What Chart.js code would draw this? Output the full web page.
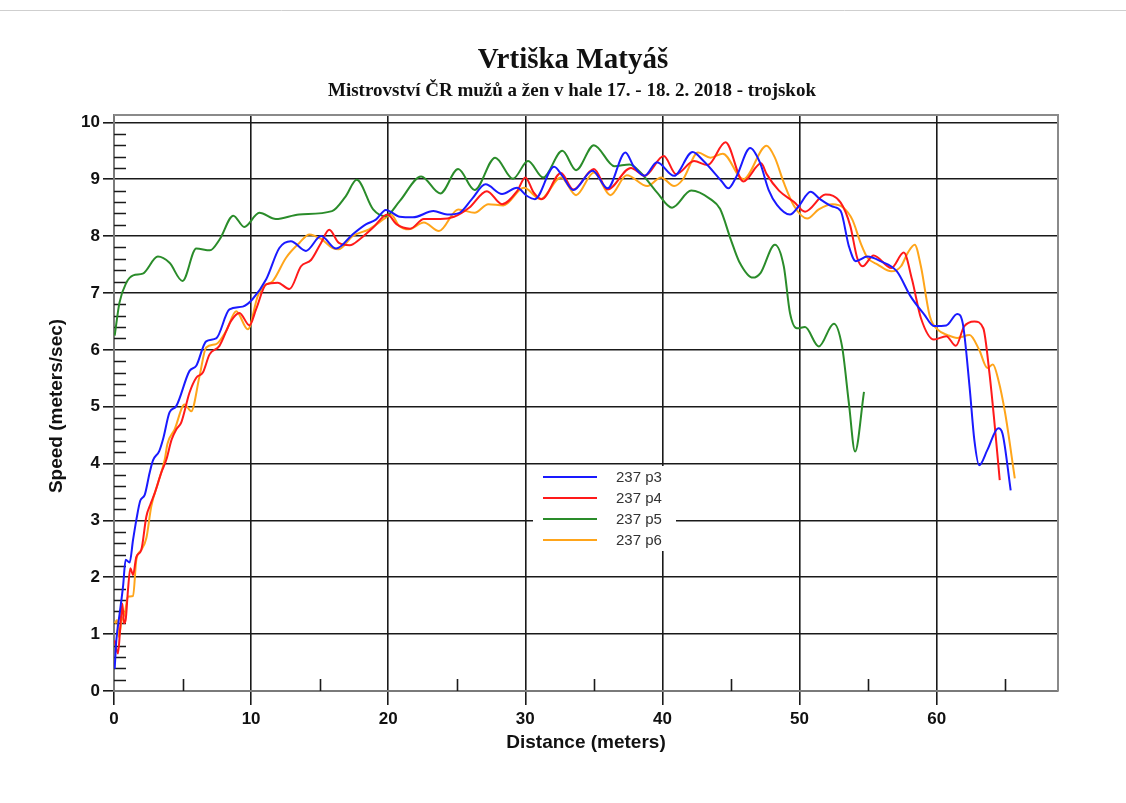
<!DOCTYPE html>
<html><head><meta charset="utf-8">
<script src="https://cdn.jsdelivr.net/npm/chart.js@4.4.1/dist/chart.umd.min.js"></script>
<style>html,body{margin:0;padding:0;background:#fff}#wrap{position:relative;width:1126px;height:803px}</style>
</head><body><div id="wrap"><canvas id="c"></canvas></div>
<script>
// ---- data (distance in meters, speed in m/s) ----
const seriesLabels = ['237 p3', '237 p4', '237 p5', '237 p6'];
const seriesColors = ['#1a1aff', '#ff1a1a', '#2a8c2a', '#ffa51a'];

const p3Dist  = [0.05,0.17,0.41,0.66,0.85,1.14,1.39,1.63,1.92,2.24,2.60,2.85,3.30,3.60,4.05,4.54,5.51,6.0,6.72,7.45,8.42,9.39,10.1,11.1,12.06,12.9,14.0,15.1,16.2,17.4,18.4,19.1,19.83,20.85,21.8,23.3,24.3,25.2,26.1,27.1,28.3,29.4,30.1,30.7,32.1,32.7,33.5,34.9,36.0,37.3,37.9,38.7,39.6,40.85,42.2,43.0,44.3,44.8,45.4,46.4,47.1,47.75,48.35,49.3,49.95,50.8,51.5,52.4,53.0,53.6,54.1,54.95,55.9,57.1,58.1,59.1,59.8,60.7,61.5,61.9,62.4,62.75,63.1,63.7,64.5,64.8,65.4];
const p3Speed = [0.39,0.89,1.36,1.84,2.31,2.26,2.66,3.01,3.35,3.45,3.84,4.06,4.22,4.45,4.90,5.01,5.63,5.72,6.15,6.20,6.71,6.76,6.89,7.24,7.79,7.91,7.74,8.0,7.78,8.03,8.21,8.29,8.46,8.34,8.33,8.44,8.38,8.41,8.65,8.91,8.74,8.85,8.71,8.65,9.22,9.06,8.81,9.15,8.84,9.47,9.23,9.06,9.30,9.06,9.48,9.32,8.97,8.84,9.05,9.55,9.30,8.81,8.55,8.38,8.53,8.78,8.65,8.52,8.44,7.82,7.56,7.64,7.56,7.38,6.94,6.62,6.42,6.43,6.63,6.47,5.35,4.41,3.97,4.24,4.62,4.53,3.53];

const p4Dist  = [0.05,0.29,0.46,0.61,0.73,0.85,1.02,1.19,1.39,1.63,1.99,2.36,2.65,2.97,3.45,3.82,4.2,4.54,4.90,5.51,6.0,6.48,6.97,7.69,8.54,9.15,9.88,10.36,11.1,11.94,12.8,13.64,14.37,15.1,15.7,16.4,17.2,17.9,18.9,19.95,20.6,21.6,22.6,23.8,24.8,25.9,27.2,28.3,29.4,30.0,30.6,31.2,32.6,33.5,35.0,36.0,37.7,38.7,40.1,41.0,42.3,43.3,44.6,45.9,47.2,47.6,48.5,49.6,50.4,51.9,53.0,53.7,54.2,54.6,55.4,56.7,57.6,58.2,58.85,59.8,60.7,61.4,62.0,62.75,63.4,63.85,64.2,64.6];
const p4Speed = [0.89,0.66,1.13,1.54,1.19,1.25,1.78,2.16,2.04,2.36,2.48,3.07,3.28,3.48,3.84,4.07,4.42,4.60,4.72,5.25,5.51,5.60,5.92,6.07,6.51,6.65,6.43,6.71,7.15,7.18,7.07,7.47,7.58,7.88,8.11,7.88,7.84,7.94,8.15,8.38,8.21,8.13,8.30,8.30,8.34,8.50,8.79,8.56,8.79,9.03,8.77,8.65,9.11,8.82,9.18,8.82,9.20,9.06,9.41,9.09,9.32,9.25,9.65,8.96,9.28,9.09,8.80,8.60,8.43,8.73,8.59,8.18,7.62,7.47,7.66,7.44,7.71,7.24,6.56,6.18,6.24,6.07,6.41,6.50,6.38,5.59,4.76,3.71];

const p5Dist  = [0.05,0.4,0.9,1.4,2.1,3.2,4.05,5.0,6.0,7.0,7.7,8.7,9.5,10.6,11.8,13.5,15.9,16.9,17.7,18.9,19.8,20.85,22.4,23.8,25.1,26.3,27.8,29.1,30.2,31.3,32.7,33.7,35.0,36.5,37.6,38.4,39.6,40.7,42.1,43.5,44.2,45.0,45.6,46.6,47.15,48.2,48.85,49.3,49.8,50.4,51.4,52.5,53.1,53.6,54.05,54.7];
const p5Speed = [6.25,6.83,7.18,7.31,7.34,7.64,7.53,7.21,7.78,7.75,7.94,8.36,8.16,8.41,8.30,8.38,8.44,8.70,8.99,8.47,8.35,8.62,9.05,8.75,9.18,8.81,9.38,9.01,9.32,9.03,9.50,9.16,9.60,9.23,9.26,9.12,8.77,8.50,8.80,8.65,8.48,7.93,7.55,7.27,7.35,7.85,7.47,6.65,6.38,6.40,6.06,6.46,6.06,5.06,4.21,5.26];

const p6Dist  = [0.05,0.22,0.36,0.54,0.78,1.02,1.39,1.63,1.99,2.36,2.72,3.21,3.7,3.9,4.42,5.15,5.63,6.24,6.72,7.45,8.18,8.91,9.76,10.49,10.97,11.58,12.55,13.52,14.25,15.1,15.95,16.4,17.4,18.6,19.8,20.2,20.8,21.5,22.6,23.7,25.1,26.3,27.3,28.4,29.9,31.1,32.6,33.7,35.0,36.2,37.4,38.9,39.9,40.85,41.5,42.6,43.5,44.4,45.9,47.6,48.2,48.85,49.6,50.56,51.4,52.4,53.2,53.85,54.5,54.95,55.7,56.7,57.4,57.9,58.4,58.85,59.5,60.1,60.8,61.5,62.4,63.1,63.7,64.1,64.5,65.0,65.7];
const p6Speed = [1.19,1.25,0.95,1.22,1.36,1.66,1.67,2.31,2.48,2.69,3.25,3.66,4.07,4.35,4.60,5.04,4.92,5.54,6.04,6.10,6.33,6.68,6.36,6.95,7.13,7.21,7.62,7.88,8.03,7.95,7.79,7.77,8.0,8.12,8.32,8.38,8.18,8.12,8.24,8.09,8.47,8.41,8.56,8.54,8.85,8.65,9.03,8.72,9.12,8.72,9.07,8.88,9.03,8.88,9.0,9.47,9.38,9.45,9.0,9.59,9.38,8.94,8.53,8.31,8.47,8.56,8.5,8.29,7.85,7.62,7.5,7.38,7.47,7.71,7.85,7.47,6.59,6.35,6.26,6.21,6.26,6.0,5.68,5.74,5.47,4.88,3.74];

const xTickLabels = ['0','10','20','30','40','50','60'];
const yTickLabels = ['0','1','2','3','4','5','6','7','8','9','10'];
const xMinorTicks = [5,15,25,35,45,55,65];
const yMinorTicks = [];
for (let i = 0; i < 10; i++) for (let j = 1; j <= 4; j++) yMinorTicks.push(i + j * 0.2);

const titleText = 'Vrtiška Matyáš';
const subtitleText = 'Mistrovství ČR mužů a žen v hale 17. - 18. 2. 2018 - trojskok';
const xTitle = 'Distance (meters)';
const yTitle = 'Speed (meters/sec)';

const toPts = (xs, ys) => xs.map((x, i) => ({x: x, y: ys[i]}));
const allDist = [p3Dist, p4Dist, p5Dist, p6Dist];
const allSpeed = [p3Speed, p4Speed, p5Speed, p6Speed];

const SANS = '"Liberation Sans", Arial, sans-serif';
const SERIF = '"Liberation Serif", "Times New Roman", serif';

const decor = {
  id: 'decor',
  beforeDatasetsDraw(chart) {
    const ctx = chart.ctx, a = chart.chartArea;
    const xs = chart.scales.x, ys = chart.scales.y;
    ctx.save();
    // minor ticks
    ctx.strokeStyle = '#1a1a1a'; ctx.lineWidth = 1.6;
    ctx.beginPath();
    yMinorTicks.forEach(v => { const y = Math.round(ys.getPixelForValue(v)) + 0.5; ctx.moveTo(a.left, y); ctx.lineTo(a.left + 12, y); });
    xMinorTicks.forEach(v => { const x = Math.round(xs.getPixelForValue(v)) + 0.5; ctx.moveTo(x, a.bottom); ctx.lineTo(x, a.bottom - 12); });
    ctx.stroke();
    // legend box
    const lx = 533, ly = 466, lw = 143, lh = 85;
    ctx.fillStyle = '#fff'; ctx.fillRect(lx, ly, lw, lh);
    ctx.font = '15px ' + SANS; ctx.textBaseline = 'middle'; ctx.textAlign = 'left';
    chart.data.datasets.forEach((ds, i) => {
      const y = 477 + i * 21;
      ctx.strokeStyle = ds.borderColor; ctx.lineWidth = 2;
      ctx.beginPath(); ctx.moveTo(543, y); ctx.lineTo(597, y); ctx.stroke();
      ctx.fillStyle = '#333'; ctx.fillText(ds.label, 616, y + 1);
    });
    ctx.restore();
  },
  afterDraw(chart) {
    const ctx = chart.ctx, a = chart.chartArea;
    ctx.save();
    // page top rule
    ctx.strokeStyle = '#cfcfcf'; ctx.lineWidth = 1;
    ctx.beginPath(); ctx.moveTo(0, 10.5); ctx.lineTo(1126, 10.5); ctx.stroke();
    // top and right frame
    ctx.strokeStyle = '#8a8a8a'; ctx.lineWidth = 2;
    ctx.beginPath(); ctx.moveTo(a.left, a.top); ctx.lineTo(a.right, a.top); ctx.lineTo(a.right, a.bottom); ctx.stroke();
    // titles
    ctx.fillStyle = '#111'; ctx.textAlign = 'center'; ctx.textBaseline = 'alphabetic';
    ctx.font = 'bold 29px ' + SERIF; ctx.fillText(titleText, 573, 68);
    ctx.font = 'bold 19px ' + SERIF; ctx.fillText(subtitleText, 572, 96);
    ctx.font = 'bold 19px ' + SANS; ctx.textBaseline = 'middle';
    ctx.fillText(xTitle, 586, 743);
    ctx.translate(57, 406); ctx.rotate(-Math.PI / 2); ctx.fillText(yTitle, 0, 0);
    ctx.restore();
  }
};

new Chart(document.getElementById('c'), {
  type: 'line',
  data: {
    datasets: seriesLabels.map((lab, i) => ({
      label: lab,
      data: toPts(allDist[i], allSpeed[i]),
      borderColor: seriesColors[i],
      borderWidth: 2,
      pointRadius: 0,
      fill: false,
      cubicInterpolationMode: 'monotone'
    }))
  },
  options: {
    responsive: true, maintainAspectRatio: false, animation: false,
    devicePixelRatio: 1,
    layout: { padding: { top: 115, right: 68, left: 0, bottom: 0 } },
    plugins: { legend: { display: false }, tooltip: { enabled: false }, title: { display: false } },
    scales: {
      x: {
        type: 'linear', min: 0, max: 68.85,
        afterFit(s) { s.height = 112; },
        ticks: { stepSize: 10, includeBounds: false, padding: 4, maxRotation: 0, autoSkip: false,
          font: { family: SANS, size: 17, weight: 'bold' }, color: '#111',
          callback: (v) => xTickLabels[Math.round(v / 10)] },
        grid: { color: '#1a1a1a', lineWidth: 1.6, tickLength: 14 },
        border: { display: true, color: '#7a7a7a', width: 2 }
      },
      y: {
        type: 'linear', min: 0, max: 10.13,
        afterFit(s) { s.width = 114; },
        ticks: { stepSize: 1, includeBounds: false, padding: 3, autoSkip: false,
          font: { family: SANS, size: 17, weight: 'bold' }, color: '#111',
          callback: (v) => yTickLabels[Math.round(v)] },
        grid: { color: '#1a1a1a', lineWidth: 1.6, tickLength: 11 },
        border: { display: true, color: '#7a7a7a', width: 2 }
      }
    }
  },
  plugins: [decor]
});
</script></body></html>
